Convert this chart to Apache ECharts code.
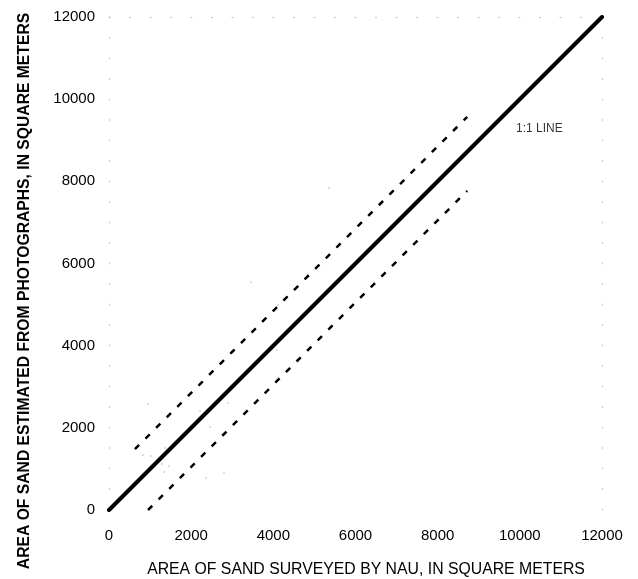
<!DOCTYPE html>
<html><head><meta charset="utf-8">
<script src="https://cdn.jsdelivr.net/npm/echarts@6/dist/echarts.min.js"></script>
<style>html,body{margin:0;padding:0;background:#fff}#c{width:638px;height:579px}</style>
</head><body><div id="c"></div>
<script>
const xTicks = [0, 2000, 4000, 6000, 8000, 10000, 12000];
const yTicks = [0, 2000, 4000, 6000, 8000, 10000, 12000];
const oneToOne = [[0, 0], [12000, 12000]];
const upperBound = [[630, 1480], [8720, 9570]];
const lowerBound = [[950, 0], [8720, 7770]];
const lineLabelPos = [[9908, 9275]];
const lineLabelText = '1:1 LINE';
const faintPoints = [[949,2580],[2215,2410],[2897,2605],[2459,2020],[1363,1509],[828,1339],[1022,1315],[1290,1120],[1461,1071],[1339,925],[2800,900],[2361,779],[3457,5550],[4114,4990],[4090,3895],[5355,7838],[8496,7571]];

const font = 'Liberation Sans, Arial, sans-serif';
const frameLine = {show:true, onZero:false, lineStyle:{color:'#bdbdbd', width:1, type:[1,19.5]}};
const chart = echarts.init(document.getElementById('c'));
chart.setOption({
  animation:false,
  grid:{left:109, right:36, top:17, bottom:69, containLabel:false, outerBoundsMode:'none'},
  xAxis:[{
    type:'value', min:0, max:12000, interval:2000,
    axisLine:{show:false}, axisTick:{show:false}, splitLine:{show:false},
    axisLabel:{color:'#000', fontSize:15, fontFamily:font, margin:18, formatter:v => String(v)},
    name:'AREA OF SAND SURVEYED BY NAU, IN SQUARE METERS', nameLocation:'middle', nameGap:51.5,
    nameTextStyle:{color:'#000', fontSize:15.8, fontFamily:font, padding:[0,0,0,21]}
  },{
    type:'value', position:'top', min:0, max:12000, interval:2000,
    axisLine:frameLine, axisTick:{show:false}, splitLine:{show:false}, axisLabel:{show:false}
  }],
  yAxis:[{
    type:'value', min:0, max:12000, interval:2000,
    axisLine:frameLine, axisTick:{show:false}, splitLine:{show:false},
    axisLabel:{color:'#000', fontSize:15, fontFamily:font, margin:14, formatter:v => String(v)},
    name:'AREA OF SAND ESTIMATED FROM PHOTOGRAPHS, IN SQUARE METERS', nameLocation:'middle', nameGap:76,
    nameTextStyle:{color:'#000', fontSize:15.7, fontWeight:'bold', fontFamily:font, padding:[0,55,0,0]}
  },{
    type:'value', position:'right', min:0, max:12000, interval:2000,
    axisLine:frameLine, axisTick:{show:false}, splitLine:{show:false}, axisLabel:{show:false}
  }],
  series:[
    {type:'scatter', data:faintPoints, symbolSize:2, itemStyle:{color:'#c8c8c8'}, silent:true},
    {type:'line', data:upperBound, symbol:'none', lineStyle:{color:'#000', width:2.5, type:[6,9]}},
    {type:'line', data:lowerBound, symbol:'none', lineStyle:{color:'#000', width:2.5, type:[6,9]}},
    {type:'line', data:oneToOne, symbol:'none', lineStyle:{color:'#000', width:4, cap:'round'}},
    {type:'scatter', data:lineLabelPos, symbolSize:0,
      label:{show:true, position:'right', distance:0, formatter:lineLabelText, color:'#000', fontSize:12, fontFamily:font}}
  ]
});
</script></body></html>
